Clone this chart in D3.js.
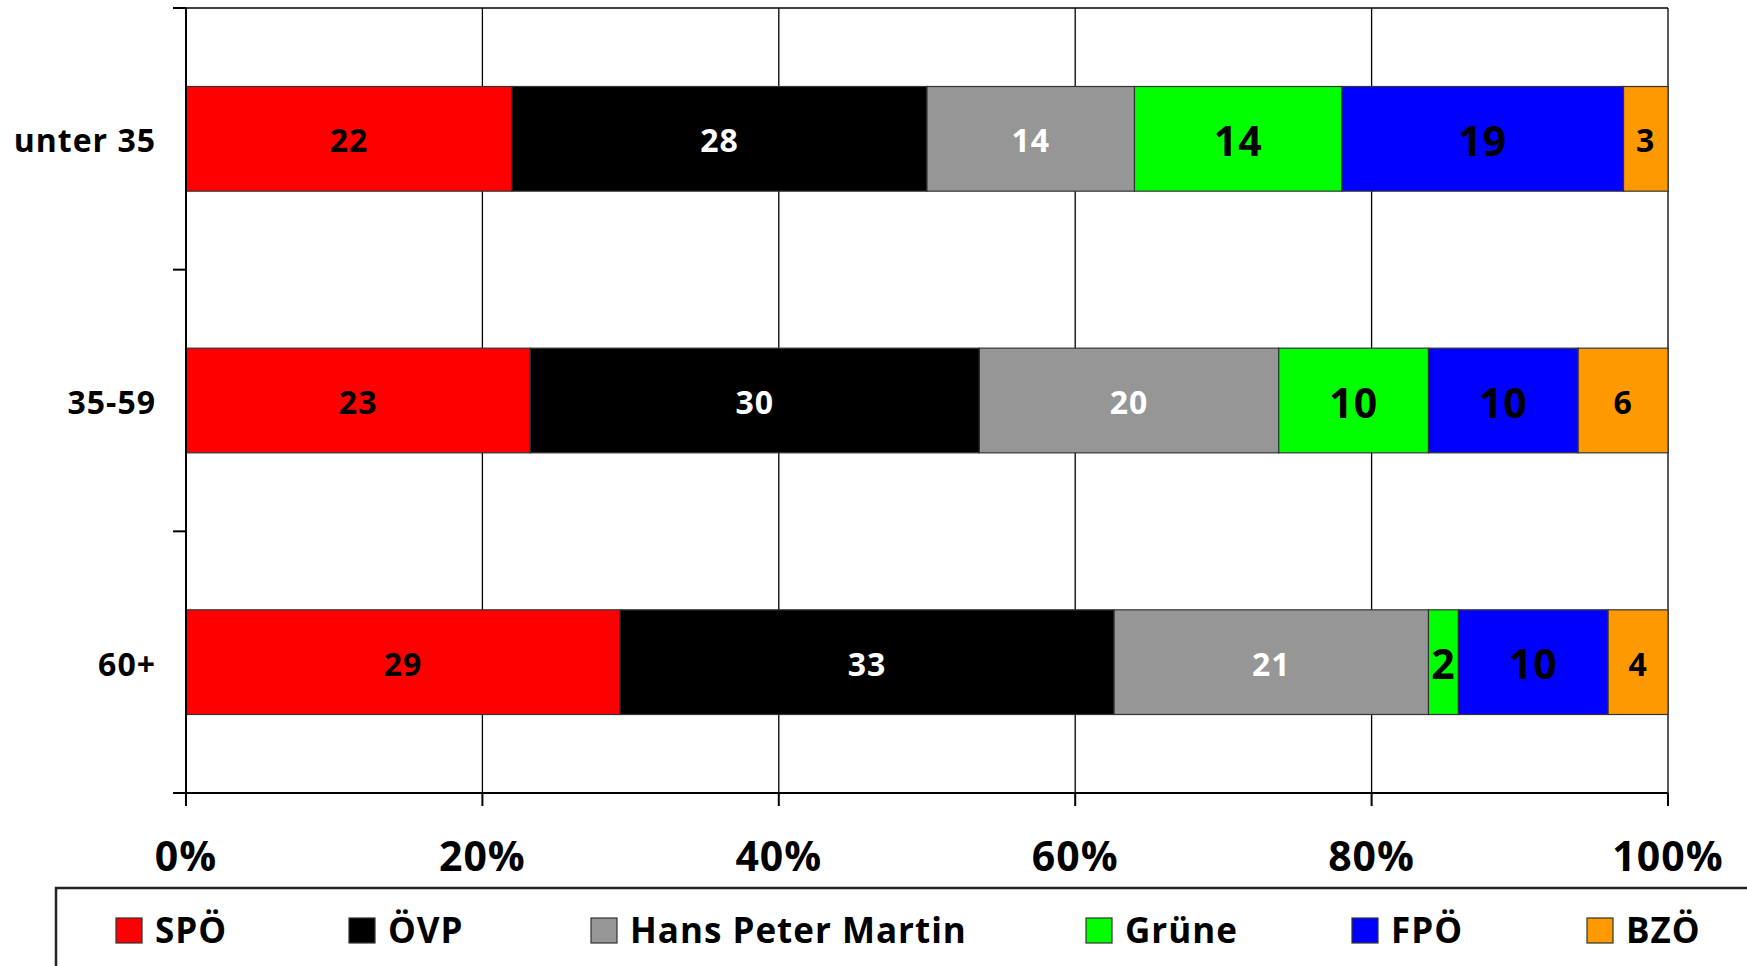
<!DOCTYPE html>
<html>
<head>
<meta charset="utf-8">
<script src="https://cdn.jsdelivr.net/npm/d3@7"></script>
<style>
  body { margin: 0; background: #fff; }
  svg text { font-family: "Open Sans", "DejaVu Sans", sans-serif; font-weight: 700; letter-spacing: 1px; }
</style>
</head>
<body>
<svg id="chart" width="1747" height="966"></svg>
<script>
// data
var groups = ["unter 35", "35-59", "60+"];
var parties = ["SPÖ", "ÖVP", "Hans Peter Martin", "Grüne", "FPÖ", "BZÖ"];
var spo   = [22, 23, 29];
var ovp   = [28, 30, 33];
var hpm   = [14, 20, 21];
var grune = [14, 10, 2];
var fpo   = [19, 10, 10];
var bzo   = [3, 6, 4];
var xTicks = [0, 0.2, 0.4, 0.6, 0.8, 1];

var colors = ["#ff0000", "#000000", "#969696", "#00ff00", "#0000ff", "#ff9900"];
var labelColors = ["#000", "#fff", "#fff", "#000", "#000", "#000"];
var labelSizes = [32, 32, 32, 41, 41, 32];

var series = [spo, ovp, hpm, grune, fpo, bzo];
var rows = groups.map(function(g, i) {
    var r = { group: g };
    parties.forEach(function(p, j) { r[p] = series[j][i]; });
    return r;
});

var stacked = d3.stack().keys(parties).offset(d3.stackOffsetExpand)(rows);

var svg = d3.select("#chart");
var LEFT = 186, RIGHT = 1668, TOP = 8, BOTTOM = 793;

var x = d3.scaleLinear().domain([0, 1]).range([LEFT, RIGHT]);
var y = d3.scaleBand().domain(groups).range([TOP, BOTTOM])
    .paddingInner(0.6).paddingOuter(0.3);

// vertical gridlines
svg.append("g").selectAll("line")
    .data(xTicks.slice(1))
    .enter().append("line")
    .attr("x1", function(d) { return x(d); })
    .attr("x2", function(d) { return x(d); })
    .attr("y1", TOP).attr("y2", BOTTOM)
    .attr("stroke", "#000").attr("stroke-width", 1.3);

// top border
svg.append("line")
    .attr("x1", LEFT - 13).attr("x2", RIGHT)
    .attr("y1", TOP).attr("y2", TOP)
    .attr("stroke", "#000").attr("stroke-width", 1.5);

// bars
var layer = svg.append("g").selectAll("g")
    .data(stacked)
    .enter().append("g")
    .attr("fill", function(d, i) { return colors[i]; });

layer.selectAll("rect")
    .data(function(d) { return d; })
    .enter().append("rect")
    .attr("x", function(d) { return x(d[0]); })
    .attr("width", function(d) { return x(d[1]) - x(d[0]); })
    .attr("y", function(d) { return y(d.data.group); })
    .attr("height", y.bandwidth())
    .attr("stroke", "#333").attr("stroke-width", 1.2);

// bar labels
stacked.forEach(function(s, i) {
    svg.append("g").selectAll("text")
        .data(s)
        .enter().append("text")
        .attr("x", function(d) { return (x(d[0]) + x(d[1])) / 2; })
        .attr("y", function(d) { return y(d.data.group) + y.bandwidth() / 2; })
        .attr("dy", "0.42em")
        .attr("text-anchor", "middle")
        .attr("fill", labelColors[i])
        .attr("font-size", labelSizes[i] + "px")
        .text(function(d) { return d.data[s.key]; });
});

// y axis
var yAxis = svg.append("g");
yAxis.append("line")
    .attr("x1", LEFT).attr("x2", LEFT)
    .attr("y1", TOP).attr("y2", BOTTOM + 13)
    .attr("stroke", "#000").attr("stroke-width", 2);
var step = y.step();
yAxis.selectAll("line.tick")
    .data(d3.range(groups.length + 1))
    .enter().append("line")
    .attr("class", "tick")
    .attr("x1", LEFT - 13).attr("x2", LEFT)
    .attr("y1", function(i) { return TOP + i * step; })
    .attr("y2", function(i) { return TOP + i * step; })
    .attr("stroke", "#000").attr("stroke-width", 2);
yAxis.selectAll("text")
    .data(groups)
    .enter().append("text")
    .attr("x", 156)
    .attr("y", function(d) { return y(d) + y.bandwidth() / 2; })
    .attr("dy", "0.42em")
    .attr("text-anchor", "end")
    .attr("font-size", "32px")
    .text(function(d) { return d; });

// x axis
var xAxis = svg.append("g");
xAxis.append("line")
    .attr("x1", LEFT - 13).attr("x2", RIGHT)
    .attr("y1", BOTTOM).attr("y2", BOTTOM)
    .attr("stroke", "#000").attr("stroke-width", 2);
xAxis.selectAll("line.tick")
    .data(xTicks)
    .enter().append("line")
    .attr("class", "tick")
    .attr("x1", function(d) { return x(d); })
    .attr("x2", function(d) { return x(d); })
    .attr("y1", BOTTOM).attr("y2", BOTTOM + 13)
    .attr("stroke", "#000").attr("stroke-width", 2);
xAxis.selectAll("text")
    .data(xTicks)
    .enter().append("text")
    .attr("x", function(d) { return x(d); })
    .attr("y", 871)
    .attr("text-anchor", "middle")
    .attr("font-size", "41px")
    .text(function(d) { return d3.format(".0%")(d); });

// legend
var legendX = [116, 349, 591, 1086, 1352, 1587];
var legend = svg.append("g");
legend.append("path")
    .attr("d", "M56,966 L56,888 L1747,888")
    .attr("fill", "none").attr("stroke", "#222").attr("stroke-width", 2.5);
var item = legend.selectAll("g.item")
    .data(parties)
    .enter().append("g")
    .attr("class", "item")
    .attr("transform", function(d, i) { return "translate(" + legendX[i] + ",918)"; });
item.append("rect")
    .attr("width", 26).attr("height", 25)
    .attr("fill", function(d, i) { return colors[i]; })
    .attr("stroke", "#333").attr("stroke-width", 1.2);
item.append("text")
    .attr("x", 39).attr("y", 25)
    .attr("font-size", "35px")
    .text(function(d) { return d; });
</script>
</body>
</html>
